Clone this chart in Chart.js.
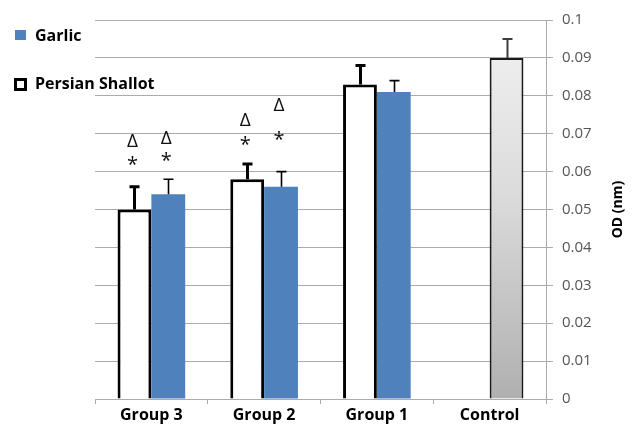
<!DOCTYPE html>
<html>
<head>
<meta charset="utf-8">
<script src="https://cdn.jsdelivr.net/npm/chart.js@4/dist/chart.umd.min.js"></script>
<style>
  html, body { margin: 0; padding: 0; background: #fff; }
  #wrap { width: 638px; height: 426px; }
</style>
</head>
<body>
<div id="wrap"><canvas id="c" width="638" height="426"></canvas></div>
<script>
// Optical density per treatment group
const categories = ['Group 3', 'Group 2', 'Group 1', 'Control'];
const shallotValues = [0.050, 0.058, 0.083, null];
const shallotErrors = [0.006, 0.004, 0.005, null];
const garlicValues = [0.054, 0.056, 0.081, 0.090];
const garlicErrors = [0.004, 0.004, 0.003, 0.005];
const tickLabels = ['0', '0.01', '0.02', '0.03', '0.04', '0.05', '0.06', '0.07', '0.08', '0.09', '0.1'];

// Significance markers (value level where each symbol sits)
const shallotStarAt = [0.0626, 0.0681, null, null];
const shallotDeltaAt = [0.0679, 0.0734, null, null];
const garlicStarAt = [0.0637, 0.0692, null, null];
const garlicDeltaAt = [0.0686, 0.0773, null, null];

const CONTROL = categories.indexOf('Control');
const BLUE = '#4F81BD';
const GRID = '#ababab';
const FONT = "'Open Sans', 'Liberation Sans', sans-serif";

function controlGradient(chart) {
  const area = chart.chartArea;
  if (!area) return '#d0d0d0';
  const g = chart.ctx.createLinearGradient(0, area.top, 0, area.bottom);
  g.addColorStop(0, '#f2f2f2');
  g.addColorStop(0.45, '#dcdcdc');
  g.addColorStop(1, '#b0b0b0');
  return g;
}

const errorBars = {
  id: 'errorBars',
  afterDatasetsDraw(chart) {
    const ctx = chart.ctx;
    const ys = chart.scales.y;
    const specs = [
      { ds: 0, err: shallotErrors, width: 3, cap: 10, color: '#000' },
      { ds: 1, err: garlicErrors, width: 1.6, cap: 10, color: '#000' }
    ];
    ctx.save();
    specs.forEach(s => {
      const meta = chart.getDatasetMeta(s.ds);
      const vals = chart.data.datasets[s.ds].data;
      meta.data.forEach((bar, i) => {
        const v = vals[i], e = s.err[i];
        if (v == null || e == null) return;
        const x = Math.round(bar.x) + 0.5;
        const top = ys.getPixelForValue(v + e);
        const base = ys.getPixelForValue(v);
        const isCtrl = i === CONTROL;
        ctx.strokeStyle = isCtrl ? '#3c3c3c' : s.color;
        ctx.lineWidth = isCtrl ? 2 : s.width;
        ctx.beginPath();
        ctx.moveTo(x, base);
        ctx.lineTo(x, top);
        ctx.moveTo(x - s.cap / 2, top);
        ctx.lineTo(x + s.cap / 2, top);
        ctx.stroke();
      });
    });
    ctx.restore();
  }
};

const markers = {
  id: 'markers',
  afterDatasetsDraw(chart) {
    const ctx = chart.ctx;
    const ys = chart.scales.y;
    const sets = [
      { ds: 0, star: shallotStarAt, delta: shallotDeltaAt },
      { ds: 1, star: garlicStarAt, delta: garlicDeltaAt }
    ];
    ctx.save();
    ctx.fillStyle = '#111';
    ctx.textAlign = 'center';
    ctx.textBaseline = 'middle';
    sets.forEach(s => {
      const meta = chart.getDatasetMeta(s.ds);
      meta.data.forEach((bar, i) => {
        if (s.star[i] != null) {
          ctx.font = '20px ' + FONT;
          ctx.fillText('*', bar.x - 2, ys.getPixelForValue(s.star[i]) + 4);
        }
        if (s.delta[i] != null) {
          ctx.font = '19px ' + FONT;
          ctx.fillText('Δ', bar.x - 2, ys.getPixelForValue(s.delta[i]));
        }
      });
    });
    ctx.restore();
  }
};

const sideDecor = {
  id: 'sideDecor',
  afterDraw(chart) {
    const ctx = chart.ctx;
    ctx.save();
    // legend entries
    ctx.textAlign = 'left';
    ctx.textBaseline = 'middle';
    ctx.font = 'bold 16px ' + FONT;
    ctx.fillStyle = BLUE;
    ctx.fillRect(15, 30, 11, 10);
    ctx.fillStyle = '#000';
    ctx.fillText(chart.data.datasets[1].label, 35, 36);
    ctx.fillStyle = '#fff';
    ctx.fillRect(14, 78, 12, 12);
    ctx.strokeStyle = '#000';
    ctx.lineWidth = 3;
    ctx.strokeRect(15.5, 79.5, 10, 10);
    ctx.fillStyle = '#000';
    ctx.fillText(chart.data.datasets[0].label, 35, 84);
    // vertical axis title
    const area = chart.chartArea;
    ctx.translate(618, (area.top + area.bottom) / 2);
    ctx.rotate(-Math.PI / 2);
    ctx.textAlign = 'center';
    ctx.font = 'bold 14px ' + FONT;
    ctx.fillText('OD (nm)', 0, 0);
    ctx.restore();
  }
};

new Chart(document.getElementById('c'), {
  type: 'bar',
  data: {
    labels: categories,
    datasets: [
      {
        label: 'Persian Shallot',
        data: shallotValues,
        backgroundColor: '#ffffff',
        borderColor: '#000000',
        borderWidth: 3,
        borderSkipped: 'bottom'
      },
      {
        label: 'Garlic',
        data: garlicValues,
        backgroundColor: ctx => ctx.dataIndex === CONTROL ? controlGradient(ctx.chart) : BLUE,
        borderColor: '#1a1a1a',
        borderWidth: ctx => ctx.dataIndex === CONTROL ? 2 : 0,
        borderSkipped: 'bottom'
      }
    ]
  },
  options: {
    responsive: false,
    animation: false,
    layout: { padding: { left: 95, top: 20, right: 0, bottom: 0 } },
    datasets: { bar: { categoryPercentage: 0.6, barPercentage: 1.0 } },
    plugins: { legend: { display: false }, tooltip: { enabled: false } },
    scales: {
      x: {
        afterFit: s => { s.height = 27; },
        grid: { display: true, drawOnChartArea: false, drawTicks: true, tickLength: 5, color: GRID, offset: true },
        border: { display: true, color: GRID, width: 1 },
        ticks: { color: '#000', padding: 2, font: { family: FONT, size: 16, weight: 'bold' } }
      },
      y: {
        position: 'right',
        min: 0,
        max: 0.1,
        afterFit: s => { s.width = 92; },
        grid: { color: GRID, drawTicks: true, tickLength: 7 },
        border: { display: true, color: GRID, width: 1 },
        ticks: {
          stepSize: 0.01,
          padding: 9,
          color: '#555',
          font: { family: FONT, size: 15 },
          callback: (v, i) => tickLabels[i]
        }
      }
    }
  },
  plugins: [errorBars, markers, sideDecor]
});
</script>
</body>
</html>
